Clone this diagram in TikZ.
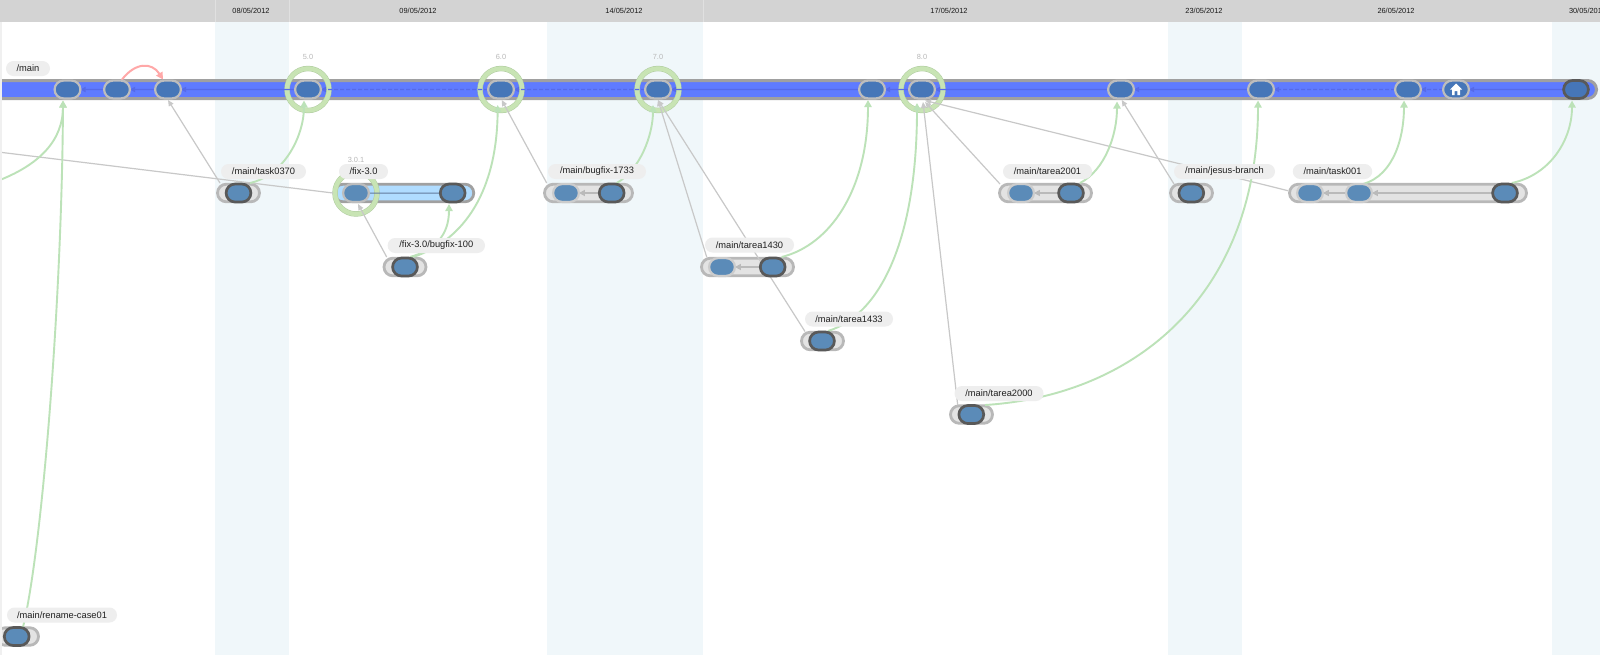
\documentclass[tikz,border=0pt]{standalone}
\usepackage{fontspec}
\setmainfont{Liberation Sans}
\usetikzlibrary{shapes.misc,arrows.meta}
\definecolor{hdr}{HTML}{D3D3D3}
\definecolor{band}{HTML}{F0F7FA}
\definecolor{mainblue}{HTML}{5F7BFF}
\definecolor{barline}{HTML}{A0A0A0}
\definecolor{nodeblue}{HTML}{4676B8}
\definecolor{nodesoft}{HTML}{5B8BB8}
\definecolor{ringgreen}{HTML}{C8E4B4}
\definecolor{ringedge}{HTML}{B0CCA0}
\definecolor{linkgreen}{HTML}{BCE2B8}
\definecolor{linkgrey}{HTML}{C8C8C8}
\definecolor{pink}{HTML}{FFA8A8}
\definecolor{fixblue}{HTML}{B0DCFF}
\definecolor{inline}{HTML}{566AE8}
\pgfdeclarelayer{bands}
\pgfdeclarelayer{conn}
\pgfdeclarelayer{top}
\pgfsetlayers{bands,conn,main,top}
\tikzset{
  bw/.style={minimum width=#1*0.5pt-1.5pt},
  branchbar/.style={rounded rectangle,draw=black!28,fill=black!11,line width=1.4pt,minimum height=8.8pt,inner sep=0pt,outer sep=0pt},
  mainbar/.style={rounded rectangle,draw=barline,fill=mainblue,line width=1.5pt,minimum height=9pt,inner sep=0pt,outer sep=0pt},
  fixbar/.style={rounded rectangle,draw=barline,fill=fixblue,line width=1.4pt,minimum height=8.8pt,inner sep=0pt,outer sep=0pt},
  ring/.style={circle,draw=ringedge,double=ringgreen,double distance=2.2pt,line width=.25pt,minimum size=21pt,inner sep=0pt,outer sep=0pt},
  cs/.style={rounded rectangle,draw=black!26,fill=nodeblue,line width=1.1pt,minimum width=12.9pt,minimum height=8.9pt,inner sep=0pt,outer sep=0pt},
  csold/.style={cs,draw=black!20,fill=nodesoft},
  cshead/.style={cs,draw=black!65,fill=nodesoft,line width=1.35pt,minimum width=12.4pt,minimum height=9pt},
  pill/.style={rounded rectangle,fill=black!6.5,text=black!88,font=\fontsize{4.65pt}{5pt}\selectfont,minimum height=7.5pt,inner sep=0pt,outer sep=0pt},
  datelabel/.style={font=\fontsize{3.7pt}{4pt}\selectfont,text=black!90,inner sep=0pt},
  verlabel/.style={font=\fontsize{3.7pt}{4pt}\selectfont,text=black!28,inner sep=0pt},
  glink/.style={draw=linkgreen,line width=.95pt,-{Triangle[length=3.5pt,width=3.6pt]}},
  glinksoft/.style={draw=linkgrey,line width=.6pt,-{Triangle[length=3pt,width=2.6pt]}},
  plink/.style={draw=pink,line width=1pt,-{Triangle[length=3.5pt,width=3.6pt]}},
  inmain/.style={draw=inline,line width=.6pt,-{Triangle[length=2.6pt,width=2.6pt]}},
  inmaindash/.style={inmain,dash pattern=on 2pt off 1pt},
  inbar/.style={draw=black!27,line width=.8pt,-{Triangle[length=3pt,width=3pt]}},
  infix/.style={draw=nodeblue!50!gray,line width=.5pt},
}
\begin{document}
\begin{tikzpicture}[x=0.5pt,y=-0.5pt]
\useasboundingbox (0,0) rectangle (1600,655);

\begin{pgfonlayer}{bands}
\begin{scope}
\clip (0,0) rectangle (1600,655);
\fill[white] (0,0) rectangle (1600,655);
\foreach \a/\b in {215/289,547/703,1168/1242,1552/1600}{\fill[band] (\a,22) rectangle (\b,655);}
\fill[hdr] (0,0) rectangle (1600,22);
\foreach \a in {215,289,703}{\draw[white!88!black,line width=.5pt] (\a,0) -- (\a,22);}
\node[datelabel] (d1) at (251,10.5) {08/05/2012};
\node[datelabel] (d2) at (418,10.5) {09/05/2012};
\node[datelabel] (d3) at (624,10.5) {14/05/2012};
\node[datelabel] (d4) at (949,10.5) {17/05/2012};
\node[datelabel] (d5) at (1204,10.5) {23/05/2012};
\node[datelabel] (d6) at (1396,10.5) {26/05/2012};
\node[datelabel] (d7) at (1587.5,10.5) {30/05/2012};

\node[mainbar,bw=1620] (mainb) at (788,89.5) {};
\node[branchbar,bw=45] (bT) at (238.5,193) {};
\node[fixbar,bw=142.5] (bF) at (404,193) {};
\node[branchbar,bw=45] (bH) at (405,267) {};
\node[branchbar,bw=91] (bB) at (588.5,193) {};
\node[branchbar,bw=95] (bA) at (747.5,267) {};
\node[branchbar,bw=45] (bC) at (822.5,341) {};
\node[branchbar,bw=45] (bD) at (971.5,414.5) {};
\node[branchbar,bw=95] (bE) at (1045.5,193) {};
\node[branchbar,bw=45] (bJ) at (1191.5,193) {};
\node[branchbar,bw=240] (bK) at (1408,193) {};
\node[branchbar,bw=45] (bR) at (17.5,636.5) {};

\node[ring] (r5) at (308,89.5) {};
\node[ring] (r6) at (501,89.5) {};
\node[ring] (r7) at (658,89.5) {};
\node[ring] (r8) at (922,89.5) {};
\node[ring] (r301) at (356,193) {};

\node[verlabel] (v5) at (308,56.5) {5.0};
\node[verlabel] (v6) at (501,56.5) {6.0};
\node[verlabel] (v7) at (658,56.5) {7.0};
\node[verlabel] (v8) at (922,56.5) {8.0};
\node[verlabel] (v301) at (356,160) {3.0.1};
\end{scope}
\end{pgfonlayer}

% changesets on /main
\node[cs] (m1) at (67.5,89.5) {};
\node[cs] (m2) at (117,89.5) {};
\node[cs] (m3) at (168,89.5) {};
\node[cs] (m4) at (308,89.5) {};
\node[cs] (m5) at (501,89.5) {};
\node[cs] (m6) at (658,89.5) {};
\node[cs] (m7) at (872,89.5) {};
\node[cs] (m8) at (922,89.5) {};
\node[cs] (m9) at (1121,89.5) {};
\node[cs] (m10) at (1261,89.5) {};
\node[cs] (m11) at (1408,89.5) {};
\node[cs] (m12) at (1456,89.5) {};
\node[cshead,fill=nodeblue] (m13) at (1576,89.5) {};
% home icon
\begin{scope}[shift={(m12.center)}]
\fill[white] (0,-6) -- (6,0) -- (4,0) -- (4,5.5) -- (1.4,5.5) -- (1.4,1.5) -- (-1.4,1.5) -- (-1.4,5.5) -- (-4,5.5) -- (-4,0) -- (-6,0) -- cycle;
\end{scope}

% changesets on branches
\node[cshead] (nT) at (238.5,193) {};
\node[cs,fill=nodesoft] (fA) at (356,193) {};
\node[cshead] (fB) at (452.7,193) {};
\node[cshead] (nH) at (405,267) {};
\node[csold] (bB1) at (566,193) {};
\node[cshead] (bB2) at (611.7,193) {};
\node[csold] (bA1) at (722,267) {};
\node[cshead] (bA2) at (772.7,267) {};
\node[cshead] (nC) at (822,341) {};
\node[cshead] (nD) at (971.3,414.5) {};
\node[csold] (bE1) at (1021,193) {};
\node[cshead] (bE2) at (1071,193) {};
\node[cshead] (nJ) at (1191.3,193) {};
\node[csold] (bK1) at (1310,193) {};
\node[csold] (bK2) at (1359,193) {};
\node[cshead] (bK3) at (1505,193) {};
\node[cshead] (nR) at (16.7,636.5) {};

% branch labels
\node[pill,minimum width=22pt] (lm) at (28,68.5) {/main};
\node[pill,minimum width=42.5pt] (lT) at (263.5,171.5) {/main/task0370};
\node[pill,minimum width=24.5pt] (lF) at (363.5,171.5) {/fix-3.0};
\node[pill,minimum width=48.7pt] (lH) at (436.3,245.5) {/fix-3.0/bugfix-100};
\node[pill,minimum width=49pt] (lB) at (597,171.5) {/main/bugfix-1733};
\node[pill,minimum width=44.5pt] (lA) at (749.5,245) {/main/tarea1430};
\node[pill,minimum width=44pt] (lC) at (849,319) {/main/tarea1433};
\node[pill,minimum width=44.5pt] (lD) at (999,393.5) {/main/tarea2000};
\node[pill,minimum width=44.5pt] (lE) at (1047.5,171.5) {/main/tarea2001};
\node[pill,minimum width=50.5pt] (lJ) at (1224.5,171.5) {/main/jesus-branch};
\node[pill,minimum width=39.7pt] (lK) at (1332.5,171.5) {/main/task001};
\node[pill,minimum width=55pt] (lR) at (62,615) {/main/rename-case01};

\coordinate (offA) at (-5,151.6);
\coordinate (offB) at (-4,181.5);

\begin{pgfonlayer}{conn}
% history along /main
\draw[inmain] (m2) -- (m1);
\draw[inmain] (m3) -- (m2);
\draw[inmain] (m4) -- (m3);
\draw[inmaindash] (m5) -- (m4);
\draw[inmaindash] (m6) -- (m5);
\draw[inmain] (m7) -- (m6);
\draw[inmain] (m8) -- (m7);
\draw[inmain] (m9) -- (m8);
\draw[inmain] (m10) -- (m9);
\draw[inmaindash] (m11) -- (m10);
\draw[inmaindash] (m12) -- (m11);
\draw[inmain] (m13) -- (m12);
% history on branches
\draw[infix] (fB) -- (fA);
\draw[inbar] (bB2) -- (bB1);
\draw[inbar] (bA2) -- (bA1);
\draw[inbar] (bE2) -- (bE1);
\draw[inbar] (bK2) -- (bK1);
\draw[inbar] (bK3) -- (bK2);
% grey branch-off links
\draw[glinksoft] ([shift={(-18.5,-10)}]bT.center) -- ([shift={(0,10.5)}]m3.center);
\draw[draw=linkgrey,line width=.6pt] (offA) -- ([shift={(-71,0)}]bF.center);
\draw[glinksoft] ([shift={(-18.3,-10)}]bH.center) -- ([shift={(2,11)}]fA.center);
\draw[glinksoft] ([shift={(-41.8,-10)}]bB.center) -- ([shift={(.7,10.5)}]m5.center);
\draw[glinksoft] ([shift={(-40.8,-10)}]bA.center) -- ([shift={(0,10.5)}]m6.center);
\draw[glinksoft] ([shift={(-17.5,-9.5)}]bC.center) -- ([shift={(0,10.5)}]m6.center);
\draw[glinksoft] ([shift={(-13.8,-9.5)}]bD.center) -- ([shift={(1,12.5)}]m8.center);
\draw[glinksoft] ([shift={(-45.5,-9)}]bE.center) -- ([shift={(3,12.5)}]m8.center);
\draw[glinksoft] ([shift={(-120,-2.3)}]bK.center) -- ([shift={(3,11)}]m8.center);
\draw[glinksoft] ([shift={(-17.5,-9)}]bJ.center) -- ([shift={(.7,10.5)}]m9.center);
% green merge links
\draw[glink] ([shift={(6.3,-9.5)}]nR.center) .. controls (42,550) and (62,300) .. ([shift={(-4.5,11)}]m1.center);
\draw[glink] (offB) .. controls (40,165) and (63,140) .. ([shift={(-4.5,11)}]m1.center);
\draw[glink] ([shift={(11.5,-10)}]nT.center) .. controls (285,175) and (304,135) .. ([shift={(-4,11)}]m4.center);
\draw[glink] ([shift={(8,-10)}]nH.center) .. controls (465,240) and (497,190) .. ([shift={(-3.3,15.5)}]m5.center);
\draw[glink] ([shift={(5,-10)}]nH.center) .. controls (435,250) and (449,235) .. ([shift={(-3.7,11)}]fB.center);
\draw[glink] ([shift={(5,-10)}]bB2.center) .. controls (640,170) and (653,135) .. ([shift={(-5,15.5)}]m6.center);
\draw[glink] ([shift={(9,-10)}]bA2.center) .. controls (830,245) and (868,190) .. ([shift={(-4,10.5)}]m7.center);
\draw[glink] ([shift={(6,-10)}]nC.center) .. controls (880,315) and (917,240) .. ([shift={(-5,13.5)}]m8.center);
\draw[glink] ([shift={(13.7,-9.5)}]nD.center) .. controls (1140,395) and (1258,290) .. ([shift={(-3,11)}]m10.center);
\draw[glink] ([shift={(9,-10)}]bE2.center) .. controls (1105,170) and (1117,135) .. ([shift={(-4,12)}]m9.center);
\draw[glink] ([shift={(4,-9)}]bK2.center) .. controls (1395,175) and (1404,135) .. ([shift={(-4,11)}]m11.center);
\draw[glink] ([shift={(6.7,-10)}]bK3.center) .. controls (1550,175) and (1572,140) .. ([shift={(-4,11)}]m13.center);
% pink link
\draw[plink] ([shift={(4.7,-9.5)}]m2.center) .. controls (135,62) and (152,62) .. ([shift={(-5,-10)}]m3.center);
\end{pgfonlayer}

\begin{pgfonlayer}{top}
\fill[black!6] (0,22) rectangle (2,655);
\end{pgfonlayer}
\end{tikzpicture}
\end{document}
